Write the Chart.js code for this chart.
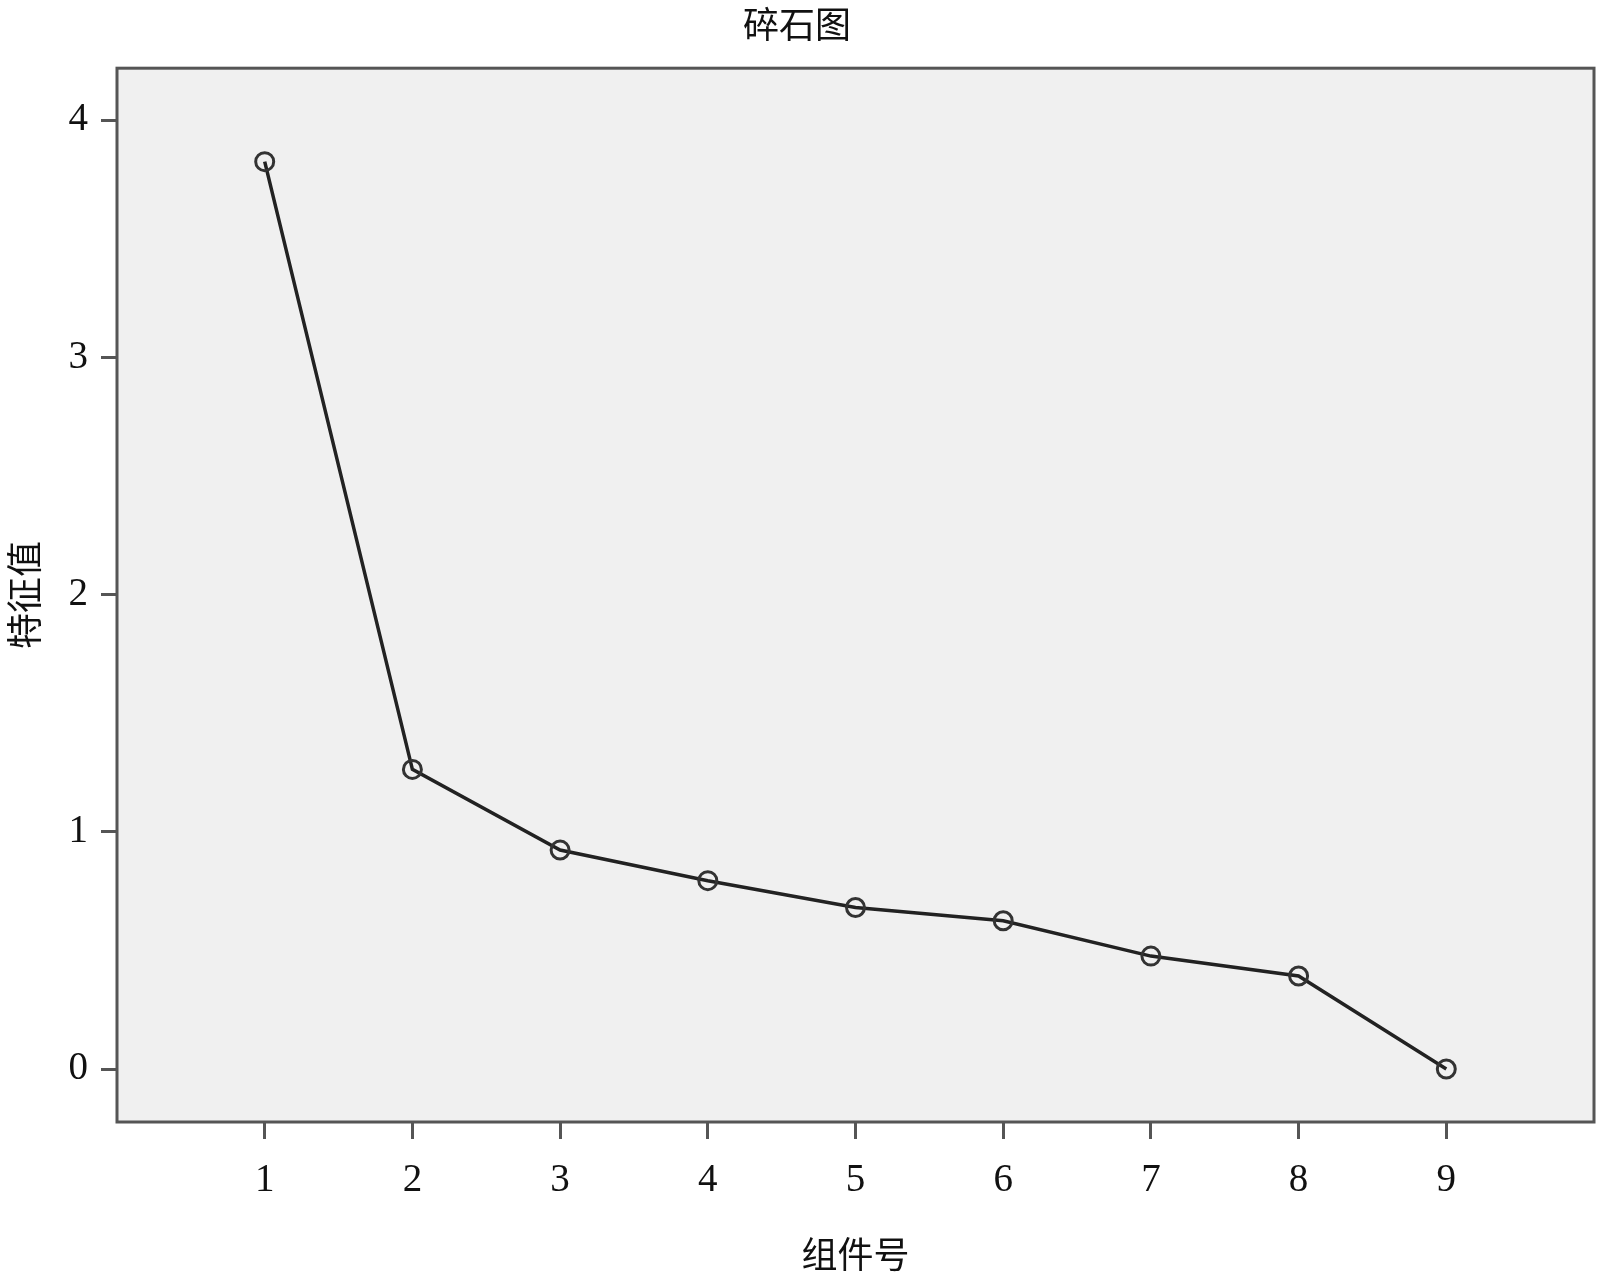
<!DOCTYPE html>
<html>
<head>
<meta charset="utf-8">
<script src="https://cdn.jsdelivr.net/npm/chart.js@4"></script>
<style>
  html, body { margin: 0; padding: 0; background: #fff; overflow: hidden; }
  #wrap { width: 1600px; height: 1279px; }
  canvas { display: block; }
</style>
</head>
<body>
<div id="wrap"><canvas id="screeChart" width="1600" height="1279"></canvas></div>
<script>
// Chart data
const components = [1, 2, 3, 4, 5, 6, 7, 8, 9];
const eigenvalues = [3.825, 1.263, 0.923, 0.794, 0.681, 0.625, 0.476, 0.392, 0.0];
const xTicks = [1, 2, 3, 4, 5, 6, 7, 8, 9];
const yTicks = [0, 1, 2, 3, 4];

const serif = "'Liberation Serif', 'Times New Roman', serif";
const cjk = "'Noto Sans CJK SC', sans-serif";

// Grey plot area with a frame round it
const plotFrame = {
    id: 'plotFrame',
    beforeDatasetsDraw(chart) {
        const { ctx, chartArea: a } = chart;
        ctx.save();
        ctx.fillStyle = '#f0f0f0';
        ctx.fillRect(a.left, a.top, a.right - a.left, a.bottom - a.top);
        ctx.restore();
    },
    afterDatasetsDraw(chart) {
        const { ctx, chartArea: a } = chart;
        ctx.save();
        ctx.strokeStyle = '#555';
        ctx.lineWidth = 3;
        ctx.strokeRect(a.left, a.top, a.right - a.left, a.bottom - a.top);
        ctx.restore();
    }
};

const ctx = document.getElementById('screeChart').getContext('2d');

new Chart(ctx, {
    type: 'line',
    data: {
        datasets: [{
            data: components.map((c, i) => ({ x: c, y: eigenvalues[i] })),
            borderColor: '#222',
            borderWidth: 3.5,
            pointRadius: 9,
            pointHoverRadius: 9,
            pointBorderWidth: 3,
            pointBorderColor: '#333',
            pointBackgroundColor: 'rgba(0,0,0,0)',
            tension: 0,
            fill: false
        }]
    },
    options: {
        responsive: false,
        animation: false,
        layout: { autoPadding: false, padding: { left: 0, right: 6, top: 0, bottom: 0 } },
        plugins: {
            legend: { display: false },
            tooltip: { enabled: false },
            title: {
                display: true,
                text: '碎石图',
                color: '#111',
                font: { family: cjk, size: 36, weight: 'normal', lineHeight: 1.2 },
                padding: { top: 3, bottom: 22 }
            }
        },
        scales: {
            x: {
                type: 'linear',
                min: 0,
                max: 10,
                afterBuildTicks: (scale) => { scale.ticks = xTicks.map(v => ({ value: v })); },
                afterFit: (scale) => {
                    scale.height = 157;
                    scale.paddingLeft = 0;
                    scale.paddingRight = 0;
                },
                grid: { display: true, drawOnChartArea: false, drawTicks: true, tickLength: 17, tickColor: '#555', tickWidth: 3 },
                border: { display: false },
                ticks: { color: '#111', padding: 18, font: { family: serif, size: 39 }, maxRotation: 0 },
                title: {
                    display: true,
                    text: '组件号',
                    color: '#111',
                    font: { family: cjk, size: 36, lineHeight: 1.2 },
                    padding: { top: 0, bottom: 3 }
                }
            },
            y: {
                type: 'linear',
                min: -0.2234,
                max: 4.219,
                afterBuildTicks: (scale) => { scale.ticks = yTicks.map(v => ({ value: v })); },
                afterFit: (scale) => {
                    scale.width = 117;
                    scale.paddingTop = 0;
                    scale.paddingBottom = 0;
                },
                grid: { display: true, drawOnChartArea: false, drawTicks: true, tickLength: 16, tickColor: '#555', tickWidth: 3 },
                border: { display: false },
                ticks: { color: '#111', padding: 13, font: { family: serif, size: 39 } },
                title: {
                    display: true,
                    text: '特征值',
                    color: '#111',
                    font: { family: cjk, size: 36, lineHeight: 1.2 },
                    padding: { top: 3, bottom: 0 }
                }
            }
        }
    },
    plugins: [plotFrame]
});
</script>
</body>
</html>
